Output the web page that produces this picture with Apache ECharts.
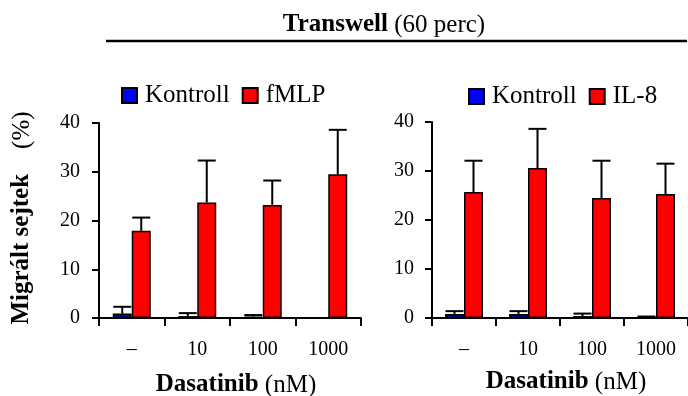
<!DOCTYPE html>
<html>
<head>
<meta charset="utf-8">
<script src="https://cdn.jsdelivr.net/npm/echarts@6/dist/echarts.min.js"></script>
<style>html,body{margin:0;padding:0;background:#fff}#c{width:688px;height:396px}</style>
</head>
<body>
<div id="c"></div>
<script>
// ---- data ----
var categories = ['–', '10', '100', '1000'];
var leftKontroll = [0.9, 0.4, 0.3, 0.1];
var leftKontrollErr = [1.4, 0.6, 0.3, 0];
var fmlp = [17.9, 23.7, 23.2, 29.5];
var fmlpErr = [2.7, 8.6, 5.0, 9.1];
var rightKontroll = [0.8, 0.8, 0.4, 0.2];
var rightKontrollErr = [0.6, 0.6, 0.5, 0.1];
var il8 = [25.7, 30.6, 24.5, 25.3];
var il8Err = [6.4, 8.0, 7.6, 6.2];
var yTicks = [0, 10, 20, 30, 40];

// ---- style ----
var FONT = 'Liberation Serif';
var BAR_W = 19;
var CAP_W = 18;

function errData(vals, errs) {
  return vals.map(function (v, i) { return [i, v, errs[i]]; });
}
function errSeries(idx, vals, errs, side) {
  return {
    type: 'custom', xAxisIndex: idx, yAxisIndex: idx, z: 5, silent: true,
    data: errData(vals, errs),
    renderItem: function (params, api) {
      var e = api.value(2);
      if (!e) return null;
      var i = api.value(0), m = api.value(1);
      var p0 = api.coord([i, m]);
      var p1 = api.coord([i, m + e]);
      var x = p0[0] + side * BAR_W / 2;
      return {
        type: 'group',
        children: [
          { type: 'line', shape: { x1: x, y1: p0[1], x2: x, y2: p1[1] }, style: { stroke: '#000', lineWidth: 2 } },
          { type: 'line', shape: { x1: x - CAP_W / 2, y1: p1[1], x2: x + CAP_W / 2, y2: p1[1] }, style: { stroke: '#000', lineWidth: 2 } }
        ]
      };
    }
  };
}
function barSeries(idx, name, vals, color) {
  return {
    type: 'bar', name: name, xAxisIndex: idx, yAxisIndex: idx,
    data: vals, barWidth: BAR_W, barGap: '0%',
    itemStyle: { color: color, borderColor: '#000', borderWidth: 1.5 }
  };
}
function xAxis(idx) {
  return {
    type: 'category', gridIndex: idx, data: categories,
    axisLine: { lineStyle: { color: '#000', width: 2 } },
    axisTick: { show: true, length: 8, lineStyle: { color: '#000', width: 2 } },
    axisLabel: { color: '#000', fontFamily: FONT, fontSize: 20, margin: 22 }
  };
}
function yAxis(idx, margin) {
  return {
    type: 'value', gridIndex: idx, min: yTicks[0], max: yTicks[yTicks.length - 1], interval: 10,
    splitLine: { show: false },
    axisLine: { show: true, lineStyle: { color: '#000', width: 2 } },
    axisTick: { show: true, length: 7, lineStyle: { color: '#000', width: 2 } },
    axisLabel: { color: '#000', fontFamily: FONT, fontSize: 20, margin: margin }
  };
}
var legendText = { color: '#000', fontFamily: FONT, fontSize: 25, padding: [0, 0, 0, 3] };

function mixedText(x, y, boldPart, normalPart, size, rot) {
  return {
    type: 'text', x: x, y: y, rotation: rot || 0,
    style: {
      text: '{b|' + boldPart + '}{n|' + normalPart + '}',
      rich: {
        b: { fontWeight: 'bold', fontSize: size, fontFamily: FONT, fill: '#000' },
        n: { fontWeight: 'normal', fontSize: size, fontFamily: FONT, fill: '#000' }
      },
      fontSize: size, fontFamily: FONT, fill: '#000', align: 'center', verticalAlign: 'middle'
    }
  };
}

var chart = echarts.init(document.getElementById('c'), null, { renderer: 'canvas' });
chart.setOption({
  animation: false,
  backgroundColor: '#fff',
  textStyle: { fontFamily: FONT },
  grid: [
    { left: 99, top: 123, width: 262, height: 195 },
    { left: 432, top: 122, width: 256, height: 196 }
  ],
  xAxis: [xAxis(0), xAxis(1)],
  yAxis: [yAxis(0, 19), yAxis(1, 18)],
  legend: [
    { data: ['Kontroll', 'fMLP'], left: 121, top: 83, padding: 0, itemWidth: 15, itemHeight: 15, itemGap: 12, icon: 'rect', textStyle: legendText, selectedMode: false },
    { data: ['Kontroll', 'IL-8'], left: 468, top: 84, padding: 0, itemWidth: 15, itemHeight: 15, itemGap: 12, icon: 'rect', textStyle: legendText, selectedMode: false }
  ],
  series: [
    barSeries(0, 'Kontroll', leftKontroll, '#0000ff'),
    barSeries(0, 'fMLP', fmlp, '#ff0000'),
    barSeries(1, 'Kontroll', rightKontroll, '#0000ff'),
    barSeries(1, 'IL-8', il8, '#ff0000'),
    errSeries(0, leftKontroll, leftKontrollErr, -1),
    errSeries(0, fmlp, fmlpErr, 1),
    errSeries(1, rightKontroll, rightKontrollErr, -1),
    errSeries(1, il8, il8Err, 1)
  ],
  graphic: [
    mixedText(384, 25, 'Transwell', ' (60 perc)', 25),
    { type: 'line', shape: { x1: 106, y1: 41, x2: 687, y2: 41 }, style: { stroke: '#000', lineWidth: 2.5 } },
    mixedText(22, 218, 'Migrált sejtek', '    (%)', 25, Math.PI / 2),
    mixedText(236, 385, 'Dasatinib', ' (nM)', 25),
    mixedText(566, 382, 'Dasatinib', ' (nM)', 25)
  ]
});
</script>
</body>
</html>
